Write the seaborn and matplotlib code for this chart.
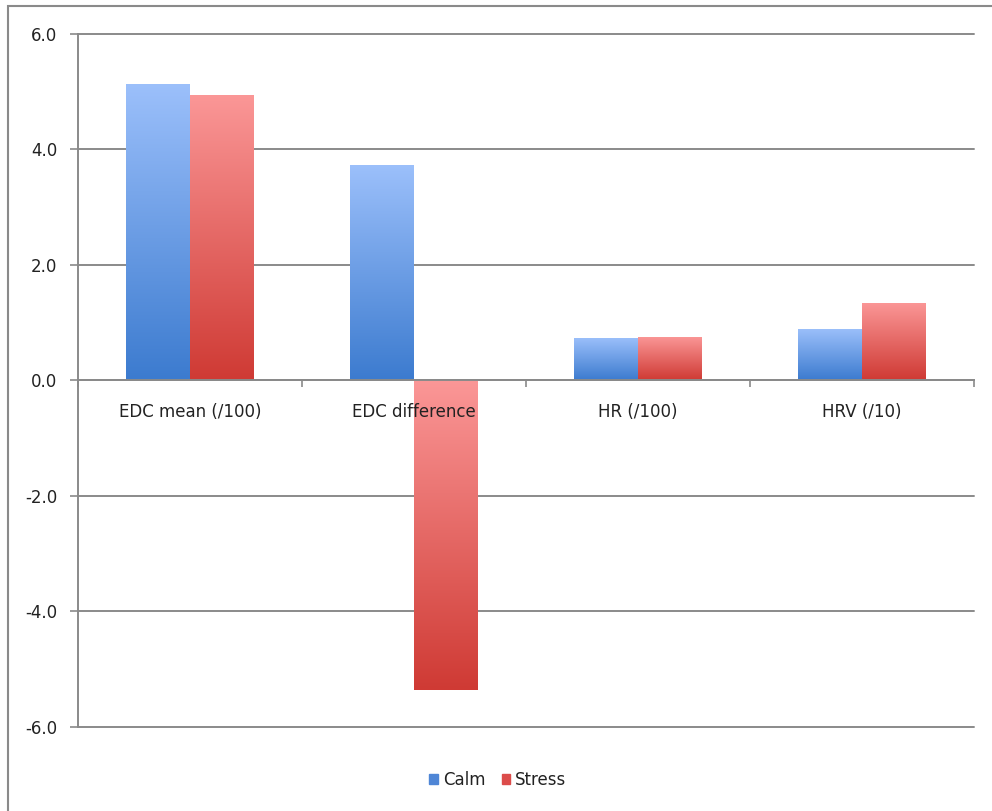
import numpy as np
import pandas as pd
import matplotlib
matplotlib.use("Agg")
import matplotlib.pyplot as plt
from matplotlib.colors import LinearSegmentedColormap
from matplotlib.patches import Rectangle
import seaborn as sns

categories = ["EDC mean (/100)", "EDC difference", "HR (/100)", "HRV (/10)"]
calm = [5.13, 3.73, 0.73, 0.89]
stress = [4.94, -5.36, 0.75, 1.35]
series = ["Calm", "Stress"]
yticks = [-6.0, -4.0, -2.0, 0.0, 2.0, 4.0, 6.0]

df = pd.DataFrame({
    "category": categories * 2,
    "value": calm + stress,
    "series": ["Calm"] * len(categories) + ["Stress"] * len(categories),
})

sns.set_theme(style="white")
plt.rcParams["font.family"] = ["DejaVu Sans"]

fig = plt.figure(figsize=(9.92, 8.11), dpi=100)
ax = fig.add_axes([78 / 992, 1 - 727 / 811, (974 - 78) / 992, (727 - 34) / 811])

palette = {"Calm": "#5a90dc", "Stress": "#e06060"}
sns.barplot(data=df, x="category", y="value", hue="series", order=categories,
            hue_order=series, palette=palette, width=0.57, ax=ax, legend=False,
            saturation=1, edgecolor="none", linewidth=0)

grads = {
    "Calm": LinearSegmentedColormap.from_list("c", ["#3c7bcf", "#9cc0fb"]),
    "Stress": LinearSegmentedColormap.from_list("s", ["#cf3a34", "#fb9797"]),
}
bars = [p for p in ax.patches if p.get_height() != 0]
n = len(categories)
for i, p in enumerate(bars):
    s = series[i // n]
    x0 = p.get_x(); w = p.get_width()
    y0 = p.get_y(); h = p.get_height()
    lo, hi = min(y0, y0 + h), max(y0, y0 + h)
    grad = np.linspace(0, 1, 256).reshape(-1, 1)
    im = ax.imshow(grad, cmap=grads[s], origin="lower", aspect="auto",
                   extent=[x0, x0 + w, lo, hi], zorder=p.get_zorder() + 0.1,
                   interpolation="bicubic")
    im.set_clip_path(p)
    p.set_facecolor("none")

ax.set_xlim(-0.5, n - 0.5)
ax.set_ylim(-6, 6)
ax.set_yticks(yticks)
ax.set_yticklabels([f"{v:.1f}" for v in yticks])
ax.yaxis.grid(True, color="#8a8a8a", linewidth=1.4)
ax.set_axisbelow(True)
for gl in ax.yaxis.get_gridlines():
    gl.set_clip_on(False)
ax.xaxis.set_zorder(5)
ax.set_xlabel("")
ax.set_ylabel("")

for side in ["top", "right"]:
    ax.spines[side].set_visible(False)
ax.spines["left"].set_color("#8a8a8a")
ax.spines["left"].set_linewidth(1.4)
ax.spines["bottom"].set_position(("data", 0))
ax.spines["bottom"].set_color("#8a8a8a")
ax.spines["bottom"].set_linewidth(1.4)
ax.spines["bottom"].set_zorder(5)

ax.set_xticks(range(n))
ax.set_xticklabels(categories)
ax.set_xticks([k + 0.5 for k in range(-1, n)], minor=True)
ax.tick_params(axis="x", which="major", length=0, pad=16, labelsize=12, colors="#222222")
ax.tick_params(axis="x", which="minor", length=5, width=1.2, color="#8a8a8a", direction="out", bottom=True)
ax.tick_params(axis="y", length=6, width=1.2, color="#8a8a8a", direction="out", left=True,
               pad=9, labelsize=12, labelcolor="#222222")

handles = [Rectangle((0, 0), 1, 1, color="#4f86d6"), Rectangle((0, 0), 1, 1, color="#dc4c4a")]
fig.legend(handles, series, loc="center", bbox_to_anchor=(0.502, 1 - 780 / 811), ncol=2,
           frameon=False, fontsize=12, handlelength=0.5, handleheight=0.6,
           handletextpad=0.3, columnspacing=1.0, labelcolor="#222222")

fig.patches.append(Rectangle((8 / 992, -0.1), 1.2, 1 - 6 / 811 + 0.1, transform=fig.transFigure,
                             fill=False, edgecolor="#8a8a8a", linewidth=1.5))

fig.savefig("out.png", dpi=100)
